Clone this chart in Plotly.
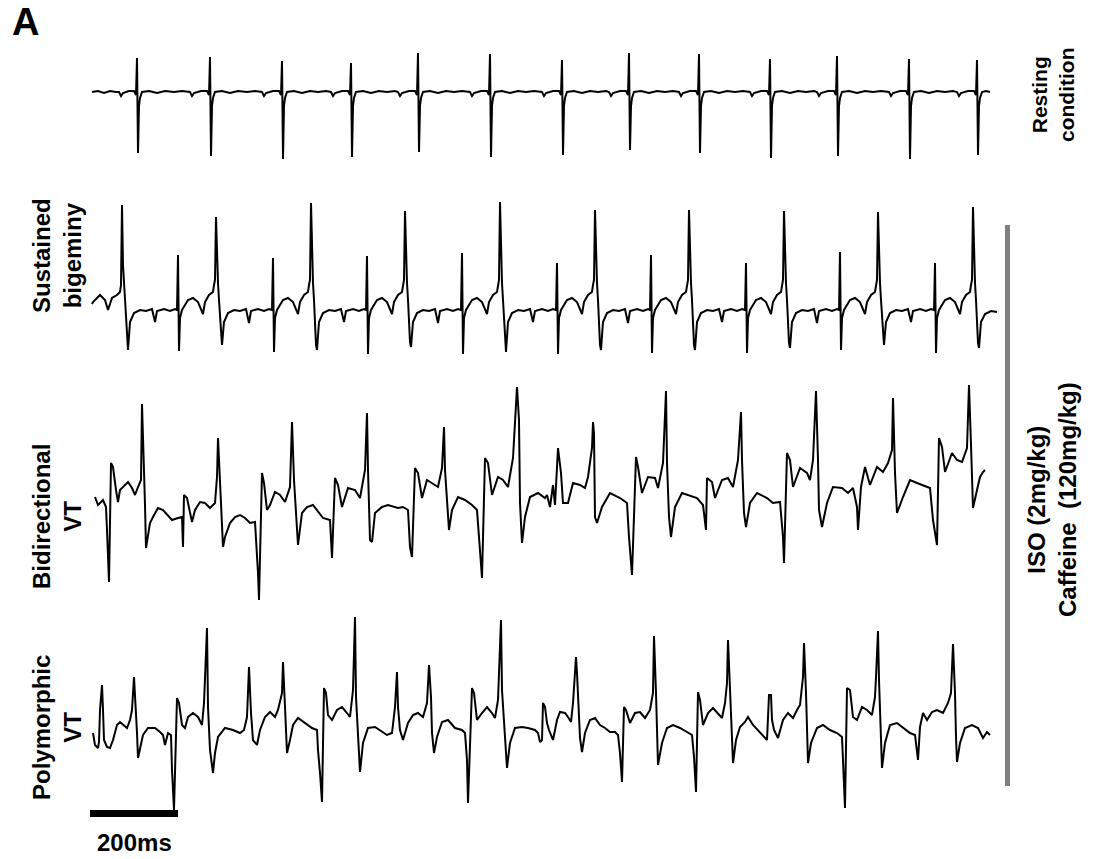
import plotly.graph_objects as go

# ---------------------------------------------------------------------------
# Digitised ECG traces: (sample index, amplitude in mV); sampling rate FS
# ---------------------------------------------------------------------------
FS = 440.0  # Hz

resting = [
    (0, 0.00), (6, 0.01), (12, -0.01), (18, 0.01), (24, 0.00), (27, 0.00), (29, -0.04), (31, -0.01),
    (37, 0.01), (42, 0.01), (44, -0.03), (45, 0.34), (46, -0.61), (47, -0.14), (48, -0.06), (50, 0.00),
    (57, 0.01), (65, -0.01), (73, 0.01), (82, 0.00), (90, 0.01), (98, 0.00), (100, -0.04), (102, -0.01),
    (109, 0.01), (115, 0.01), (117, -0.03), (118, 0.35), (119, -0.64), (120, -0.14), (121, -0.06), (123, 0.00),
    (130, 0.01), (138, -0.01), (146, 0.01), (155, 0.00), (163, 0.01), (170, 0.00), (172, -0.04), (174, -0.01),
    (181, 0.01), (187, 0.01), (189, -0.03), (190, 0.31), (191, -0.67), (192, -0.14), (193, -0.06), (195, 0.00),
    (202, 0.01), (210, -0.01), (218, 0.01), (226, 0.00), (234, 0.01), (239, 0.00), (241, -0.04), (243, -0.01),
    (250, 0.01), (256, 0.01), (258, -0.03), (259, 0.29), (260, -0.65), (261, -0.14), (262, -0.06), (264, 0.00),
    (271, 0.01), (279, -0.01), (287, 0.01), (295, 0.00), (303, 0.01), (306, 0.00), (308, -0.04), (310, -0.01),
    (317, 0.01), (323, 0.01), (325, -0.03), (326, 0.39), (327, -0.60), (328, -0.14), (329, -0.06), (331, 0.00),
    (338, 0.01), (346, -0.01), (354, 0.01), (362, 0.00), (370, 0.01), (378, 0.00), (380, -0.04), (382, -0.01),
    (389, 0.01), (395, 0.01), (397, -0.03), (398, 0.38), (399, -0.65), (400, -0.14), (401, -0.06), (403, 0.00),
    (410, 0.01), (418, -0.01), (426, 0.01), (434, 0.00), (442, 0.01), (450, 0.00), (452, -0.04), (454, -0.01),
    (461, 0.01), (467, 0.01), (469, -0.03), (470, 0.32), (471, -0.63), (472, -0.14), (473, -0.06), (475, 0.00),
    (482, 0.01), (490, -0.01), (498, 0.01), (506, 0.00), (514, 0.01), (517, 0.00), (519, -0.04), (521, -0.01),
    (528, 0.01), (534, 0.01), (536, -0.03), (537, 0.39), (538, -0.58), (539, -0.14), (540, -0.06), (542, 0.00),
    (549, 0.01), (557, -0.01), (565, 0.01), (573, 0.00), (581, 0.01), (587, 0.00), (589, -0.04), (591, -0.01),
    (598, 0.01), (604, 0.01), (606, -0.03), (607, 0.38), (608, -0.61), (609, -0.14), (610, -0.06), (612, 0.00),
    (619, 0.01), (627, -0.01), (635, 0.01), (643, 0.00), (651, 0.01), (658, 0.00), (660, -0.04), (662, -0.01),
    (669, 0.01), (675, 0.01), (677, -0.03), (678, 0.33), (679, -0.66), (680, -0.14), (681, -0.06), (683, 0.00),
    (690, 0.01), (698, -0.01), (706, 0.01), (714, 0.00), (722, 0.01), (725, 0.00), (727, -0.04), (729, -0.01),
    (736, 0.01), (742, 0.01), (744, -0.03), (745, 0.36), (746, -0.64), (747, -0.14), (748, -0.06), (750, 0.00),
    (757, 0.01), (765, -0.01), (773, 0.01), (781, 0.00), (789, 0.01), (797, 0.00), (799, -0.04), (801, -0.01),
    (808, 0.01), (814, 0.01), (816, -0.03), (817, 0.33), (818, -0.67), (819, -0.14), (820, -0.06), (822, 0.00),
    (829, 0.01), (837, -0.01), (845, 0.01), (853, 0.00), (861, 0.01), (865, 0.00), (867, -0.04), (869, -0.01),
    (876, 0.01), (882, 0.01), (884, -0.03), (885, 0.32), (886, -0.63), (887, -0.14), (888, -0.06), (890, 0.00),
    (894, 0.01), (898, 0.00),
]

bigeminy = [
    (0, 0.06), (1, 0.08), (8, 0.15), (13, 0.10), (16, 0.00), (20, 0.12), (25, 0.15), (28, 0.18), (29, 0.25),
    (30, 1.05), (31, 0.45), (32, 0.27), (33, 0.10), (35, -0.35), (36, -0.40), (38, -0.12), (42, -0.03), (48, 0.00),
    (54, -0.01), (60, 0.01), (63, -0.12), (65, -0.01), (72, 0.01), (78, -0.01), (83, 0.01), (85, 0.00),
    (86, 0.55), (87, -0.41), (88, -0.08), (90, 0.00), (96, 0.10), (101, 0.12), (106, 0.08),
    (111, -0.04), (113, 0.08), (117, 0.15), (121, 0.18), (122, 0.25), (123, 0.30),
    (124, 0.93), (125, 0.45), (126, 0.27), (127, 0.10), (129, -0.30), (130, -0.35), (132, -0.12), (136, -0.03),
    (142, 0.00), (148, -0.01), (154, 0.01), (157, -0.13), (159, -0.01), (166, 0.01), (172, -0.01), (177, 0.01), (180, 0.00),
    (181, 0.52), (182, -0.42), (183, -0.08), (185, 0.00), (191, 0.10), (196, 0.12), (201, 0.08),
    (206, -0.04), (208, 0.08), (212, 0.15), (216, 0.18), (217, 0.25), (218, 0.30),
    (219, 1.07), (220, 0.45), (221, 0.27), (222, 0.10), (224, -0.35), (225, -0.40), (227, -0.12), (231, -0.03),
    (237, 0.00), (243, -0.01), (249, 0.01), (252, -0.12), (254, -0.01), (261, 0.01), (267, -0.01), (272, 0.01), (274, 0.00),
    (275, 0.54), (276, -0.44), (277, -0.08), (279, 0.00), (285, 0.10), (290, 0.12), (295, 0.08),
    (300, -0.04), (302, 0.08), (306, 0.15), (310, 0.18), (311, 0.25), (312, 0.30),
    (313, 0.99), (314, 0.45), (315, 0.27), (316, 0.10), (318, -0.32), (319, -0.37), (321, -0.12), (325, -0.03),
    (331, 0.00), (337, -0.01), (343, 0.01), (346, -0.13), (348, -0.01), (355, 0.01), (361, -0.01), (366, 0.01), (369, 0.00),
    (370, 0.57), (371, -0.44), (372, -0.08), (374, 0.00), (380, 0.10), (385, 0.12), (390, 0.08),
    (395, -0.04), (397, 0.08), (401, 0.15), (405, 0.18), (406, 0.25), (407, 0.30),
    (408, 1.08), (409, 0.45), (410, 0.27), (411, 0.10), (413, -0.36), (414, -0.42), (416, -0.12), (420, -0.03),
    (426, 0.00), (432, -0.01), (438, 0.01), (441, -0.12), (443, -0.01), (450, 0.01), (456, -0.01), (461, 0.01), (464, 0.00),
    (465, 0.47), (466, -0.44), (467, -0.08), (469, 0.00), (475, 0.10), (480, 0.12), (485, 0.08),
    (490, -0.04), (492, 0.08), (496, 0.15), (500, 0.18), (501, 0.25), (502, 0.30),
    (503, 1.00), (504, 0.45), (505, 0.27), (506, 0.10), (508, -0.35), (509, -0.40), (511, -0.12), (515, -0.03),
    (521, 0.00), (527, -0.01), (533, 0.01), (536, -0.13), (538, -0.01), (545, 0.01), (551, -0.01), (556, 0.01), (558, 0.00),
    (559, 0.55), (560, -0.43), (561, -0.08), (563, 0.00), (569, 0.10), (574, 0.12), (579, 0.08),
    (584, -0.04), (586, 0.08), (590, 0.15), (594, 0.18), (595, 0.25), (596, 0.30),
    (597, 1.00), (598, 0.45), (599, 0.27), (600, 0.10), (602, -0.35), (603, -0.40), (605, -0.12), (609, -0.03),
    (615, 0.00), (621, -0.01), (627, 0.01), (630, -0.12), (632, -0.01), (639, 0.01), (645, -0.01), (650, 0.01), (653, 0.00),
    (654, 0.47), (655, -0.43), (656, -0.08), (658, 0.00), (664, 0.10), (669, 0.12), (674, 0.08),
    (679, -0.04), (681, 0.08), (685, 0.15), (689, 0.18), (690, 0.25), (691, 0.30),
    (692, 0.99), (693, 0.45), (694, 0.27), (695, 0.10), (697, -0.33), (698, -0.38), (700, -0.12), (704, -0.03),
    (710, 0.00), (716, -0.01), (722, 0.01), (725, -0.13), (727, -0.01), (734, 0.01), (740, -0.01), (745, 0.01), (747, 0.00),
    (748, 0.58), (749, -0.40), (750, -0.08), (752, 0.00), (758, 0.10), (763, 0.12), (768, 0.08),
    (773, -0.04), (775, 0.08), (779, 0.15), (783, 0.18), (784, 0.25), (785, 0.30),
    (786, 0.98), (787, 0.45), (788, 0.27), (789, 0.10), (791, -0.30), (792, -0.35), (794, -0.12), (798, -0.03),
    (804, 0.00), (810, -0.01), (816, 0.01), (819, -0.12), (821, -0.01), (828, 0.01), (834, -0.01), (839, 0.01), (842, 0.00),
    (843, 0.47), (844, -0.43), (845, -0.08), (847, 0.00), (853, 0.10), (858, 0.12), (863, 0.08),
    (868, -0.04), (870, 0.08), (874, 0.15), (878, 0.18), (879, 0.25), (880, 0.30),
    (881, 1.03), (882, 0.45), (883, 0.27), (884, 0.10), (886, -0.33), (887, -0.38), (889, -0.12), (893, -0.04),
    (899, -0.01), (905, -0.02),
]

bidirectional = [
    (3, 0.03), (6, -0.05), (11, 0.00), (14, -0.07), (15, -0.30), (16, -0.57), (17, -0.82), (19, 0.37), (21, 0.33),
    (24, 0.10), (26, -0.02), (28, 0.10), (33, 0.15), (36, 0.18), (40, 0.12), (43, 0.05), (46, 0.13), (49, 0.20),
    (50, 0.96), (52, 0.37), (53, -0.05), (54, -0.48), (58, -0.23), (61, -0.17), (66, -0.08), (71, -0.10), (76, -0.15),
    (80, -0.20), (86, -0.18), (90, -0.17), (91, -0.47), (92, 0.05), (95, 0.02), (100, -0.22), (103, -0.10),
    (108, -0.02), (113, -0.03), (118, -0.08), (123, -0.03), (125, 0.23), (126, 0.62), (128, 0.20), (130, -0.37),
    (131, -0.47), (133, -0.37), (138, -0.23), (143, -0.17), (148, -0.15), (153, -0.18), (158, -0.23), (163, -0.22),
    (165, -0.50), (166, -0.73), (167, -1.00), (170, 0.27), (172, 0.17), (175, -0.10), (178, -0.05), (183, 0.08),
    (188, 0.05), (193, -0.02), (198, 0.13), (200, 0.78), (202, 0.20), (205, -0.32), (206, -0.45), (210, -0.13),
    (215, -0.07), (221, -0.05), (226, -0.12), (231, -0.18), (238, -0.20), (240, -0.58), (243, 0.22), (246, 0.15),
    (250, -0.07), (256, 0.12), (263, 0.10), (268, 0.02), (273, 0.30), (275, 0.87), (276, 0.30), (278, -0.40),
    (280, -0.42), (283, -0.13), (290, -0.07), (296, -0.05), (306, -0.08), (311, -0.07), (316, -0.10), (318, -0.47),
    (320, -0.57), (323, 0.32), (326, 0.27), (330, 0.02), (335, 0.20), (340, 0.17), (346, 0.13), (350, 0.32),
    (352, 0.73), (353, 0.30), (356, -0.17), (357, -0.30), (360, -0.10), (366, 0.03), (373, 0.00), (380, -0.05),
    (385, -0.10), (388, -0.52), (390, -0.78), (393, 0.42), (396, 0.37), (400, 0.05), (406, 0.23), (411, 0.20),
    (416, 0.13), (421, 0.42), (425, 1.13), (427, 0.80), (428, -0.03), (430, -0.43), (433, -0.17), (438, 0.03),
    (446, 0.07), (453, 0.02), (455, 0.05), (458, -0.07), (461, 0.15), (463, -0.05), (465, 0.30), (466, 0.52),
    (469, 0.27), (471, -0.03), (476, -0.03), (481, 0.17), (488, 0.15), (493, 0.12), (496, 0.23), (500, 0.52),
    (501, 0.78), (502, 0.67), (503, -0.17), (505, -0.23), (510, -0.07), (518, 0.07), (528, 0.02), (535, -0.03),
    (537, -0.37), (540, -0.75), (544, 0.43), (546, 0.33), (550, 0.07), (556, 0.23), (563, 0.22), (566, 0.12),
    (571, 0.37), (574, 1.09), (575, 0.37), (577, -0.17), (579, -0.37), (583, -0.07), (590, 0.07), (596, 0.05),
    (605, 0.02), (611, -0.05), (614, -0.30), (615, 0.22), (620, 0.18), (623, 0.02), (630, 0.20), (636, 0.22),
    (641, 0.13), (646, 0.40), (649, 0.88), (650, 0.40), (652, -0.13), (654, -0.27), (658, -0.03), (665, 0.07),
    (675, 0.02), (681, -0.03), (688, -0.02), (691, -0.37), (692, -0.63), (695, 0.47), (698, 0.40), (701, 0.13),
    (708, 0.32), (715, 0.27), (718, 0.20), (721, 0.40), (724, 1.09), (726, 0.40), (727, -0.10), (730, -0.27),
    (735, -0.03), (741, 0.13), (750, 0.12), (756, 0.07), (761, 0.12), (765, -0.07), (766, -0.30), (769, 0.13),
    (773, 0.33), (778, 0.15), (785, 0.33), (791, 0.28), (796, 0.37), (800, 0.50), (801, 1.02), (803, 0.27),
    (805, -0.13), (811, 0.03), (818, 0.20), (825, 0.17), (831, 0.15), (838, 0.12), (841, -0.20), (845, -0.45),
    (847, 0.62), (850, 0.53), (853, 0.28), (860, 0.47), (865, 0.40), (870, 0.38), (875, 0.52), (877, 1.15),
    (879, 0.55), (880, 0.07), (881, -0.08), (885, 0.10), (888, 0.23), (891, 0.28), (893, 0.30),
]

polymorphic = [
    (1, -0.03), (3, -0.15), (6, -0.18), (7, -0.12), (8, 0.20), (10, 0.45), (11, 0.20), (12, -0.10), (15, -0.17),
    (18, -0.18), (21, -0.10), (25, 0.05), (28, 0.08), (31, 0.05), (35, 0.02), (38, 0.10), (40, 0.20), (42, 0.53),
    (44, 0.23), (45, -0.03), (46, -0.28), (48, -0.20), (51, -0.05), (56, 0.02), (63, 0.02), (68, -0.02), (71, -0.05),
    (73, -0.15), (76, -0.03), (79, -0.05), (80, -0.40), (82, -0.80), (85, 0.32), (87, 0.27), (90, 0.05), (93, 0.02),
    (96, 0.13), (101, 0.17), (106, 0.13), (110, 0.05), (112, 0.27), (115, 1.02), (116, 0.23), (118, -0.20),
    (121, -0.43), (123, -0.23), (126, -0.07), (133, 0.02), (141, 0.00), (148, -0.03), (152, 0.00), (155, 0.13),
    (157, 0.63), (159, 0.17), (161, -0.10), (165, -0.15), (168, 0.00), (173, 0.13), (178, 0.18), (183, 0.13),
    (186, 0.20), (190, 0.37), (191, 0.68), (193, 0.23), (195, -0.23), (198, -0.10), (201, 0.05), (206, 0.12),
    (213, 0.07), (220, 0.02), (225, 0.00), (226, -0.20), (228, -0.43), (230, -0.72), (232, 0.42), (234, 0.37),
    (236, 0.15), (240, 0.10), (245, 0.20), (250, 0.23), (255, 0.17), (258, 0.13), (261, 0.40), (263, 1.13),
    (264, 0.33), (266, -0.03), (268, -0.42), (271, -0.13), (276, 0.02), (283, 0.03), (290, -0.02), (295, -0.05),
    (300, -0.03), (303, 0.23), (305, 0.58), (306, 0.23), (308, 0.00), (311, -0.10), (316, 0.07), (321, 0.15),
    (326, 0.17), (331, 0.13), (335, 0.27), (337, 0.65), (339, 0.33), (340, -0.03), (342, -0.23), (345, -0.07),
    (350, 0.08), (356, 0.10), (363, 0.02), (370, 0.00), (373, -0.03), (375, -0.30), (376, -0.73), (380, 0.42),
    (382, 0.37), (385, 0.10), (390, 0.17), (395, 0.23), (400, 0.17), (403, 0.12), (406, 0.30), (409, 1.10),
    (410, 0.40), (413, -0.07), (415, -0.38), (418, -0.13), (423, 0.02), (430, 0.03), (436, 0.02), (443, 0.00),
    (446, -0.03), (448, -0.12), (450, -0.10), (451, 0.27), (453, 0.23), (455, 0.07), (457, 0.00), (461, -0.10),
    (465, 0.10), (468, 0.18), (473, 0.17), (476, 0.13), (479, 0.08), (481, 0.27), (484, 0.73), (485, 0.57),
    (487, 0.13), (488, -0.08), (490, -0.22), (493, -0.03), (498, 0.10), (503, 0.12), (508, 0.05), (513, 0.02),
    (518, -0.02), (523, -0.02), (526, -0.05), (528, -0.23), (530, -0.52), (532, 0.23), (534, 0.20), (538, 0.07),
    (543, 0.17), (548, 0.18), (553, 0.12), (558, 0.20), (561, 0.37), (562, 0.94), (564, 0.37), (565, -0.03),
    (566, -0.35), (570, -0.13), (575, 0.02), (581, 0.05), (588, 0.02), (595, -0.02), (600, -0.05), (602, -0.27),
    (604, -0.62), (606, 0.38), (608, 0.30), (611, 0.05), (616, 0.17), (621, 0.22), (626, 0.17), (630, 0.12),
    (633, 0.27), (635, 0.47), (636, 0.90), (638, 0.37), (640, -0.07), (641, -0.33), (644, -0.10), (648, 0.03),
    (653, 0.08), (656, 0.13), (661, 0.05), (668, -0.02), (671, -0.05), (675, -0.10), (677, 0.35), (679, 0.35),
    (680, 0.10), (682, 0.00), (686, -0.08), (691, 0.10), (696, 0.17), (701, 0.12), (705, 0.20), (708, 0.25),
    (711, 0.53), (712, 0.87), (714, 0.37), (715, -0.13), (716, -0.33), (719, -0.13), (725, 0.02), (731, 0.05),
    (738, 0.00), (745, -0.03), (750, -0.07), (751, -0.30), (753, -0.78), (755, 0.42), (758, 0.40), (761, 0.13),
    (765, 0.10), (770, 0.23), (775, 0.20), (780, 0.15), (783, 0.33), (784, 0.53), (786, 0.99), (787, 0.50),
    (789, -0.07), (790, -0.38), (793, -0.13), (798, 0.05), (805, 0.07), (811, 0.02), (818, -0.03), (823, -0.05),
    (826, -0.30), (828, 0.03), (831, 0.17), (835, 0.10), (840, 0.18), (845, 0.20), (851, 0.17), (856, 0.27),
    (859, 0.37), (861, 0.86), (863, 0.37), (864, -0.07), (865, -0.32), (868, -0.13), (873, 0.02), (880, 0.05),
    (886, 0.02), (891, -0.08), (895, -0.02), (898, -0.05),
]

panel_names = ["Resting condition", "Sustained bigeminy", "Bidirectional VT", "Polymorphic VT"]
panel_data = [resting, bigeminy, bidirectional, polymorphic]
scale_bar_ms = 200
treatment_label = "ISO (2mg/kg)<br>Caffeine  (120mg/kg)"

# ---------------------------------------------------------------------------
# Layout geometry
# ---------------------------------------------------------------------------
W, H = 1096, 859
MS_PER_SAMPLE = 1000.0 / FS
X0_PX = 92                     # pixel column of sample 0
PX_PER_MV = 100.0
BASELINE_ROWS = [92, 310, 500, 730]
FONT = "Arial, Liberation Sans, Helvetica, sans-serif"

fig = go.Figure()
axis_refs = ["y", "y2", "y3", "y4"]
for name, pts, yref in zip(panel_names, panel_data, axis_refs):
    fig.add_trace(go.Scatter(
        x=[s * MS_PER_SAMPLE for s, _ in pts],
        y=[v for _, v in pts],
        mode="lines",
        line=dict(color="black", width=2),
        name=name,
        yaxis=yref,
        showlegend=False,
        hoverinfo="skip",
    ))

layout_axes = {}
for i, row in enumerate(BASELINE_ROWS):
    key = "yaxis" if i == 0 else f"yaxis{i + 1}"
    ax = dict(range=[-(H - row) / PX_PER_MV, row / PX_PER_MV], visible=False, fixedrange=True)
    if i:
        ax["overlaying"] = "y"
    layout_axes[key] = ax


def px(xp, yp):
    return xp / W, 1 - yp / H


annotations = []


def label(text, xp, yp, size, angle=-90):
    x, y = px(xp, yp)
    annotations.append(dict(text=text, x=x, y=y, xref="paper", yref="paper", showarrow=False,
                            textangle=angle, xanchor="center", yanchor="middle",
                            font=dict(family=FONT, size=size, color="black")))


label("<b>A</b>", 25, 22, 38, angle=0)
label("<b>Sustained<br>bigeminy</b>", 57, 256, 24)
label("<b>Bidirectional<br>VT</b>", 57, 517, 24)
label("<b>Polymorphic<br>VT</b>", 57, 728, 24)
label("<b>Resting<br>condition</b>", 1053, 95, 21)
label("<b>" + treatment_label.replace("<br>", "</b><br><b>") + "</b>", 1052, 500, 24)
label("<b>%dms</b>" % scale_bar_ms, 134, 842, 24, angle=0)

bar_x0 = (90 - X0_PX) * MS_PER_SAMPLE
shapes = [
    dict(type="rect", xref="x", yref="paper", x0=bar_x0, x1=bar_x0 + scale_bar_ms,
         y0=1 - 817 / H, y1=1 - 810 / H, fillcolor="black", line=dict(width=0)),
    dict(type="rect", xref="paper", yref="paper", x0=1005 / W, x1=1010 / W,
         y0=1 - 786 / H, y1=1 - 225 / H, fillcolor="#7f7f7f", line=dict(width=0)),
]

fig.update_layout(
    width=W, height=H, autosize=False,
    margin=dict(l=0, r=0, t=0, b=0, pad=0),
    paper_bgcolor="white", plot_bgcolor="white",
    xaxis=dict(range=[-X0_PX * MS_PER_SAMPLE, (W - X0_PX) * MS_PER_SAMPLE], visible=False, fixedrange=True),
    annotations=annotations,
    shapes=shapes,
    **layout_axes,
)

fig.write_html(
    "out.html",
    config={"displayModeBar": False, "staticPlot": True},
    post_script="document.body.style.margin='0';document.body.style.overflow='hidden';",
)
